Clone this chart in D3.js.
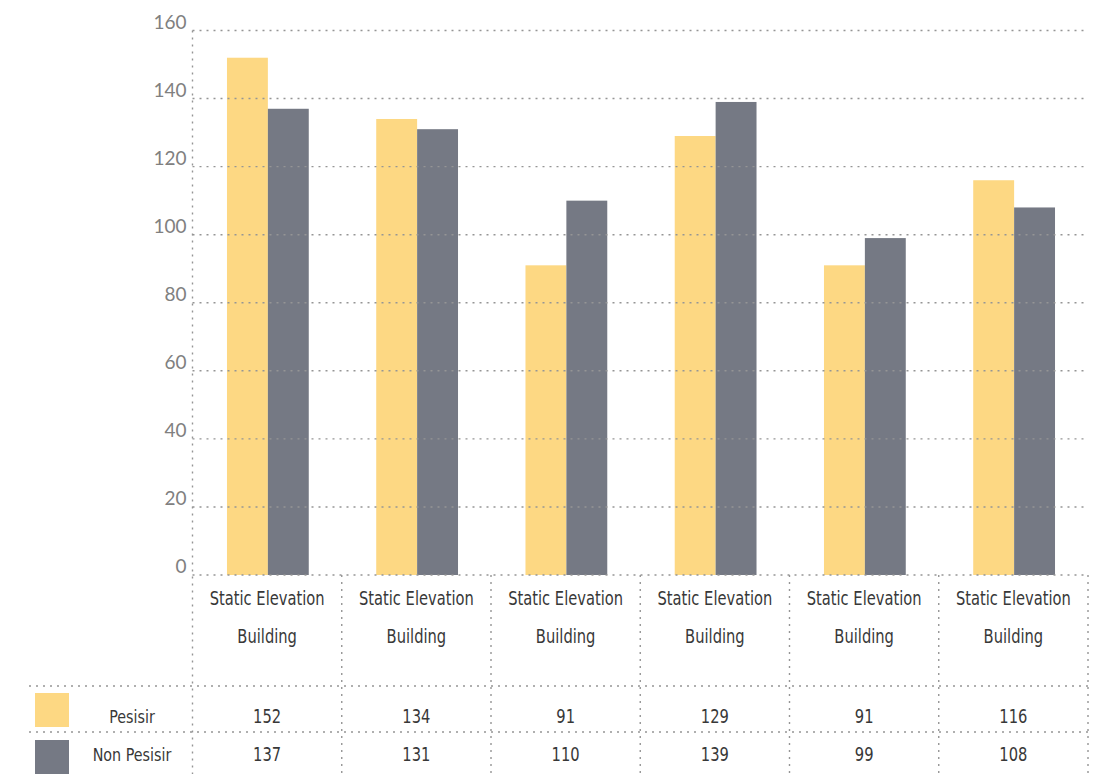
<!DOCTYPE html>
<html>
<head>
<meta charset="utf-8">
<script src="https://d3js.org/d3.v7.min.js"></script>
<style>
  body { margin: 0; background: #fff; }
  .cond { font-family: "Liberation Sans Narrow", "DejaVu Sans Condensed", "Roboto Condensed", sans-serif; }
</style>
</head>
<body>
<script>
// chart data
var categories = ["Static Elevation|Building", "Static Elevation|Building", "Static Elevation|Building",
                  "Static Elevation|Building", "Static Elevation|Building", "Static Elevation|Building"];
var seriesNames = ["Pesisir", "Non Pesisir"];
var pesisir = [152, 134, 91, 129, 91, 116];
var nonPesisir = [137, 131, 110, 139, 99, 108];
var yTicks = [0, 20, 40, 60, 80, 100, 120, 140, 160];
var colors = ["#fdd883", "#757984"];

var width = 1109, height = 774;
var plotLeft = 192.5, plotRight = 1088, plotTop = 30.5, base = 575;
var row1 = 686, row2 = 732;
var dots = "2,5";
var gridCol = "#959595";
var squeeze = 0.86; // narrow the glyphs a bit, the source font is condensed

var series = [pesisir, nonPesisir];
var idx = d3.range(categories.length);

var svg = d3.select("body").append("svg")
  .attr("width", width)
  .attr("height", height);

var x = d3.scaleBand().domain(idx).range([plotLeft, plotRight]).padding(0);
var bw = x.bandwidth();
var x1 = d3.scaleBand().domain([0, 1]).range([bw * 0.231, bw * 0.779]).padding(0);
var y = d3.scaleLinear().domain([0, 160]).range([base, plotTop]);

// bars
var groups = svg.append("g").selectAll("g")
  .data(idx)
  .enter().append("g")
  .attr("transform", function(i) { return "translate(" + x(i) + ",0)"; });

groups.selectAll("rect")
  .data(function(i) { return series.map(function(s, k) { return { k: k, v: s[i] }; }); })
  .enter().append("rect")
  .attr("x", function(d) { return x1(d.k); })
  .attr("width", x1.bandwidth())
  .attr("y", function(d) { return y(d.v); })
  .attr("height", function(d) { return base - y(d.v); })
  .attr("fill", function(d) { return colors[d.k]; });

// dotted grid drawn over the bars
svg.append("g").selectAll("line")
  .data(yTicks)
  .enter().append("line")
  .attr("x1", plotLeft).attr("x2", plotRight)
  .attr("y1", function(d) { return y(d); })
  .attr("y2", function(d) { return y(d); })
  .attr("stroke", gridCol)
  .attr("stroke-width", 1.4)
  .attr("stroke-dasharray", dots);

// y axis labels
svg.append("g").selectAll("text")
  .data(yTicks)
  .enter().append("text")
  .attr("x", plotLeft - 6)
  .attr("y", function(d) { return y(d) - 2; })
  .attr("text-anchor", "end")
  .attr("font-family", "Lato, 'Open Sans', sans-serif")
  .attr("font-size", 19)
  .attr("fill", "#808080")
  .text(function(d) { return d; });

// vertical dotted lines (y axis + table columns)
var vlines = [plotLeft].concat(idx.map(function(i) { return x(i) + bw; }));
svg.append("g").selectAll("line")
  .data(vlines)
  .enter().append("line")
  .attr("x1", function(d) { return d; })
  .attr("x2", function(d) { return d; })
  .attr("y1", function(d, i) { return i === 0 ? plotTop : base; })
  .attr("y2", height)
  .attr("stroke", gridCol)
  .attr("stroke-width", 1.4)
  .attr("stroke-dasharray", dots);

// table row lines
svg.append("g").selectAll("line")
  .data([row1, row2])
  .enter().append("line")
  .attr("x1", 29).attr("x2", plotRight)
  .attr("y1", function(d) { return d; })
  .attr("y2", function(d) { return d; })
  .attr("stroke", gridCol)
  .attr("stroke-width", 1.4)
  .attr("stroke-dasharray", dots);

// helper: condensed text centred at cx
function condText(sel, cx, yy, size, txt) {
  return sel.append("text")
    .attr("class", "cond")
    .attr("transform", "translate(" + cx + "," + yy + ") scale(" + squeeze + ",1)")
    .attr("text-anchor", "middle")
    .attr("font-size", size)
    .attr("fill", "#383838")
    .text(txt);
}

// category labels
var catG = svg.append("g");
idx.forEach(function(i) {
  var parts = categories[i].split("|");
  condText(catG, x(i) + bw / 2, 605, 19, parts[0]);
  condText(catG, x(i) + bw / 2, 643, 19, parts[1]);
});

// table values
var rowsY = [723, 761];
var valG = svg.append("g");
series.forEach(function(s, k) {
  idx.forEach(function(i) {
    condText(valG, x(i) + bw / 2, rowsY[k], 19, s[i]);
  });
});

// legend in the table
var legG = svg.append("g");
seriesNames.forEach(function(name, k) {
  legG.append("rect")
    .attr("x", 35)
    .attr("y", [693, 740][k])
    .attr("width", 34)
    .attr("height", 34)
    .attr("fill", colors[k]);
  condText(legG, 132, rowsY[k], 18.5, name);
});
</script>
</body>
</html>
